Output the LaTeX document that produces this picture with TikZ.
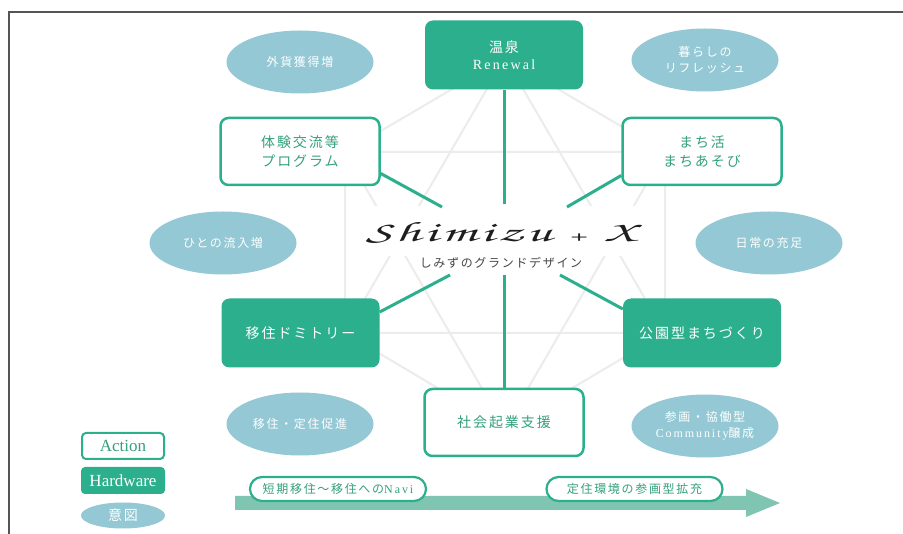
\documentclass[tikz,border=0pt]{standalone}
\usepackage[T1]{fontenc}
\usepackage{fontspec}
\usepackage{graphicx}
\setmainfont{Liberation Serif}
\newfontfamily\jp{Noto Sans CJK JP}
\newfontfamily\jpls[LetterSpace=14]{Noto Sans CJK JP}
\newfontfamily\serls[LetterSpace=16]{Liberation Serif}
\usetikzlibrary{shapes.geometric}
\definecolor{teal1}{RGB}{44,175,140}
\definecolor{tealtext}{RGB}{52,160,126}
\definecolor{ell}{RGB}{147,200,212}
\definecolor{arrowc}{RGB}{128,197,178}
\definecolor{bgline}{RGB}{236,236,236}
\definecolor{framec}{RGB}{85,85,85}
\definecolor{ink}{RGB}{30,30,30}
\definecolor{subink}{RGB}{70,70,70}
\tikzset{
  hw/.style={rectangle, rounded corners=8pt, fill=teal1, minimum width=158pt, minimum height=69pt,
    inner sep=0pt, text=white, align=center, font=\jpls\fontsize{14}{19}\selectfont},
  act/.style={rectangle, rounded corners=8pt, draw=teal1, line width=2.5pt, fill=white,
    minimum width=159pt, minimum height=67pt, inner sep=0pt, text=tealtext, align=center,
    font=\jpls\fontsize{14}{19}\selectfont},
  aim/.style={ellipse, fill=ell, minimum width=147pt, minimum height=63pt, inner sep=0pt,
    text=white, align=center, font=\jpls\fontsize{12}{16}\selectfont},
  conn/.style={draw=teal1, line width=3pt},
  bgl/.style={draw=bgline, line width=2pt},
  pill/.style={rectangle, rounded corners=12pt, draw=teal1, line width=2.2pt, fill=white,
    minimum width=176pt, minimum height=24pt, inner sep=0pt, text=tealtext,
    font=\jpls\fontsize{12}{14}\selectfont},
  legact/.style={rectangle, rounded corners=4pt, draw=teal1, line width=2pt, fill=white,
    minimum width=82pt, minimum height=26pt, inner sep=0pt, text=tealtext,
    font=\fontsize{17}{18}\selectfont},
  leghw/.style={rectangle, rounded corners=4pt, fill=teal1, minimum width=84pt,
    minimum height=27pt, inner sep=0pt, text=white, font=\fontsize{17}{18}\selectfont},
  legaim/.style={ellipse, fill=ell, minimum width=84pt, minimum height=26pt, inner sep=0pt,
    text=white, font=\jpls\fontsize{14}{16}\selectfont},
}
\begin{document}
\begin{tikzpicture}[x=1pt,y=-1pt]
\useasboundingbox (0,0) rectangle (903,534);
\fill[white] (0,0) rectangle (903,534);
% frame
\draw[framec, line width=1.5pt] (9,534) -- (9,12) -- (903,12);
% background hexagram
\coordinate (h1) at (505,58);
\coordinate (h2) at (665,152);
\coordinate (h3) at (665,333);
\coordinate (h4) at (505,428);
\coordinate (h5) at (345,333);
\coordinate (h6) at (345,152);
\draw[bgl] (h1) -- (h2) -- (h3) -- (h4) -- (h5) -- (h6) -- cycle;
\draw[bgl] (h1) -- (h3) -- (h5) -- cycle;
\draw[bgl] (h2) -- (h4) -- (h6) -- cycle;
% centre
\node[fill=white, minimum width=262pt, minimum height=50pt, inner sep=0pt] (titlebg) at (505,231) {};
\node[fill=white, minimum width=172pt, minimum height=16pt, inner sep=0pt] (subbg) at (501,263) {};
\node[text=ink, inner sep=0pt] (title) at (501,233)
  {\scalebox{2.0}[1]{\usefont{T1}{pzc}{mb}{it}\fontsize{28}{30}\selectfont
   S\kern2pt h\kern2pt i\kern2pt m\kern2pt i\kern2pt z\kern2pt u\hspace{8pt}{\fontsize{18}{20}\selectfont +}\hspace{9pt}X}};
\node[text=subink, inner sep=0pt, font=\jpls\fontsize{12}{14}\selectfont] (sub) at (501,263) {しみずのグランドデザイン};
% connector inner ends
\coordinate (cT) at (504,204);
\coordinate (cB) at (504,275);
\coordinate (cUL) at (442,207);
\coordinate (cUR) at (567,207);
\coordinate (cLL) at (450,275);
\coordinate (cLR) at (560,275);
% boxes
\node[hw] (T) at (504,55) {\raisebox{-2pt}{温泉}\\{\serls Renewal}};
\node[act] (UL) at (300,151.5) {体験交流等\\プログラム};
\node[act] (UR) at (702,151.5) {まち活\\まちあそび};
\node[hw] (LL) at (300.5,333) {移住ドミトリー};
\node[hw] (LR) at (702,333) {公園型まちづくり};
\node[act] (B) at (504,422.5) {社会起業支援};
% connectors
\draw[conn] (T.south) -- (cT);
\draw[conn] (B.north) -- (cB);
\draw[conn] ([yshift=-22pt]UL.east) -- (cUL);
\draw[conn] ([yshift=-24pt]UR.west) -- (cUR);
\draw[conn] ([yshift=21pt]LL.east) -- (cLL);
\draw[conn] ([yshift=24pt]LR.west) -- (cLR);
% aims
\node[aim] (e1) at (300,62) {外貨獲得増};
\node[aim] (e2) at (705,60) {暮らしの\\リフレッシュ};
\node[aim] (e3) at (223,243) {ひとの流入増};
\node[aim] (e4) at (769,243) {日常の充足};
\node[aim] (e5) at (300,424) {移住・定住促進};
\node[aim] (e6) at (705,426) {参画・協働型\\{\serls Community}醸成};
% arrow
\fill[arrowc] (235,496) -- (746,496) -- (746,489) -- (780,503) -- (746,517) -- (746,510) -- (235,510) -- cycle;
\node[pill] (p1) at (338,489) {短期移住～移住への{\serls Navi}};
\node[pill] (p2) at (634.5,489) {定住環境の参画型拡充};
% legend
\node[legact] (l1) at (123,446) {Action};
\node[leghw] (l2) at (123,480.5) {Hardware};
\node[legaim] (l3) at (123,515.5) {意図};
\end{tikzpicture}
\end{document}
